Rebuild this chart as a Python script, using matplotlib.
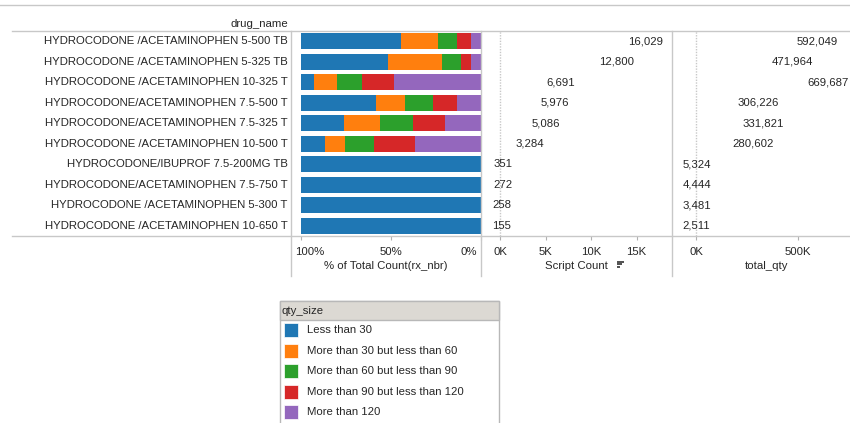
import matplotlib
matplotlib.use("Agg")
import matplotlib.pyplot as plt
from matplotlib.lines import Line2D
from matplotlib.patches import Rectangle
from matplotlib.transforms import ScaledTranslation

plt.rcParams['font.family'] = ['Liberation Sans', 'DejaVu Sans']

# ---------------- data ----------------
drug_names = [
    "HYDROCODONE /ACETAMINOPHEN 5-500 TB",
    "HYDROCODONE /ACETAMINOPHEN 5-325 TB",
    "HYDROCODONE /ACETAMINOPHEN 10-325 T",
    "HYDROCODONE/ACETAMINOPHEN 7.5-500 T",
    "HYDROCODONE/ACETAMINOPHEN 7.5-325 T",
    "HYDROCODONE /ACETAMINOPHEN 10-500 T",
    "HYDROCODONE/IBUPROF 7.5-200MG TB",
    "HYDROCODONE/ACETAMINOPHEN 7.5-750 T",
    "HYDROCODONE /ACETAMINOPHEN 5-300 T",
    "HYDROCODONE /ACETAMINOPHEN 10-650 T",
]
qty_sizes = ["Less than 30", "More than 30 but less than 60",
             "More than 60 but less than 90", "More than 90 but less than 120",
             "More than 120"]
pct_lt30 = [55.6, 48.1, 7.2, 41.9, 23.7, 13.3, 100, 100, 100, 100]
pct_30_60 = [20.4, 30.2, 13.0, 15.9, 20.4, 11.3, 0, 0, 0, 0]
pct_60_90 = [10.9, 10.4, 13.7, 15.6, 18.3, 16.1, 0, 0, 0, 0]
pct_90_120 = [7.6, 5.7, 17.8, 13.5, 17.8, 22.8, 0, 0, 0, 0]
pct_gt120 = [5.5, 5.6, 48.3, 13.1, 19.8, 36.5, 0, 0, 0, 0]
script_count = [16029, 12800, 6691, 5976, 5086, 3284, 351, 272, 258, 155]
total_qty = [592049, 471964, 669687, 306226, 331821, 280602, 5324, 4444, 3481, 2511]
pct_ticks = [100, 50, 0]
pct_tick_labels = ["100%", "50%", "0%"]
sc_ticks = [0, 5000, 10000, 15000]
sc_tick_labels = ["0K", "5K", "10K", "15K"]
tq_ticks = [0, 500000]
tq_tick_labels = ["0K", "500K"]

colors = ["#1f77b4", "#ff7f0e", "#2ca02c", "#d62728", "#9467bd"]
TXT = "#262626"
LINE = "#c8c8c8"
FS = 8.2

# ---------------- figure ----------------
W, H = 850, 423
fig = plt.figure(figsize=(W / 100, H / 100), dpi=100)
fig.patch.set_facecolor("white")


def fx(x):
    return x / W


def fy(y):
    return 1 - y / H


def add_ax(x0, y0, x1, y1):
    return fig.add_axes([x0 / W, 1 - y1 / H, (x1 - x0) / W, (y1 - y0) / H])


def hline(x0, x1, y, color=LINE):
    fig.add_artist(Line2D([fx(x0), fx(x1)], [fy(y), fy(y)], transform=fig.transFigure,
                          color=color, lw=1))


def vline(x, y0, y1, color=LINE):
    fig.add_artist(Line2D([fx(x), fx(x)], [fy(y0), fy(y1)], transform=fig.transFigure,
                          color=color, lw=1))


n = len(drug_names)
rows = list(range(n))
TOP, BOT = 31, 236

# frame lines
hline(0, 850, 5)
hline(12, 850, TOP)
hline(12, 850, BOT)
for xv in (291, 481, 672):
    vline(xv, TOP, 276)

# header
fig.text(fx(288), fy(24), "drug_name", ha="right", va="center", fontsize=FS, color=TXT)

# drug names
ax_names = add_ax(12, TOP, 291, BOT)
ax_names.set_ylim(n - 0.5, -0.5)
ax_names.set_xlim(0, 1)
ax_names.axis("off")
for i, name in enumerate(drug_names):
    ax_names.text(0.988, i, name, ha="right", va="center", fontsize=FS, color=TXT)


def style_axis(ax, ticks, labels, title, labelpad):
    for s in ax.spines.values():
        s.set_visible(False)
    ax.set_yticks([])
    ax.set_xticks(ticks)
    ax.set_xticklabels(labels)
    ax.tick_params(axis="x", direction="out", length=3, width=0.8, color="#b0b0b0",
                   labelsize=FS, labelcolor=TXT, pad=5)
    ax.set_xlabel(title, fontsize=FS, color=TXT, labelpad=labelpad)
    ax.set_ylim(n - 0.5, -0.5)
    ax.set_facecolor("none")


# % pane
ax_pct = add_ax(291, TOP, 481, BOT)
ax_pct.set_xlim(100 + 10 / 1.8, 0)
series = [pct_lt30, pct_30_60, pct_60_90, pct_90_120, pct_gt120]
cum = [0.0] * n
for vals, c, lab in zip(series, colors, qty_sizes):
    lefts = [100 - cb - v for cb, v in zip(cum, vals)]
    ax_pct.barh(rows, vals, left=lefts, height=0.8, color=c, label=lab, linewidth=0)
    cum = [cb + v for cb, v in zip(cum, vals)]
style_axis(ax_pct, pct_ticks, pct_tick_labels, "% of Total Count(rx_nbr)", 3)
lbls = ax_pct.get_xticklabels()
lbls[0].set_ha("left")
lbls[0].set_transform(lbls[0].get_transform() + ScaledTranslation(-6 / 100, 0, fig.dpi_scale_trans))
lbls[-1].set_ha("right")
lbls[-1].set_transform(lbls[-1].get_transform() + ScaledTranslation(-4 / 100, 0, fig.dpi_scale_trans))

# Script count pane
sc_px = 9.1 / 1000.0
ax_sc = add_ax(481, TOP, 672, BOT)
ax_sc.set_xlim(-19 / sc_px, (672 - 500) / sc_px)
ax_sc.axvline(0, color="#c8c8c8", lw=1, ls=(0, (1, 1)))
for i, v in enumerate(script_count):
    ax_sc.text(v, i, f"{v:,}", ha="center", va="center", fontsize=FS, color=TXT)
style_axis(ax_sc, sc_ticks, sc_tick_labels, "Script Count", 3)

# sort icon
for k, w_ in enumerate([7, 5, 3]):
    fig.add_artist(Rectangle((fx(617), fy(260.5 + 2.8 * k) - 2.0 / H), w_ / W, 2.0 / H,
                             transform=fig.transFigure, color="#555555", lw=0))

# total qty pane
tq_px = 0.204 / 1000.0
ax_tq = add_ax(672, TOP, 862, BOT)
ax_tq.set_xlim(-24 / tq_px, (862 - 696) / tq_px)
ax_tq.axvline(0, color="#c8c8c8", lw=1, ls=(0, (1, 1)))
tq_texts = []
for i, v in enumerate(total_qty):
    tq_texts.append(ax_tq.text(v, i, f"{v:,}", ha="center", va="center", fontsize=FS, color=TXT))
style_axis(ax_tq, tq_ticks, tq_tick_labels, "total_qty", 3)

# keep value labels inside the figure (shift left if they overflow the right edge)
renderer = fig.canvas.get_renderer()
for t in tq_texts:
    bb = t.get_window_extent(renderer)
    over = bb.x1 - (W - 1)
    if over > 0:
        t.set_transform(t.get_transform() + ScaledTranslation(-over / 100, 0, fig.dpi_scale_trans))

# legend
LX0, LX1, LY0 = 280, 499, 301
fig.add_artist(Rectangle((fx(LX0), fy(430)), (LX1 - LX0) / W, (430 - LY0) / H,
                         transform=fig.transFigure, facecolor="white", edgecolor="#b8b8b8", lw=1))
fig.add_artist(Rectangle((fx(LX0), fy(320)), (LX1 - LX0) / W, (320 - LY0) / H,
                         transform=fig.transFigure, facecolor="#dcd9d3", edgecolor="#b8b8b8", lw=1))
fig.text(fx(282), fy(311), "qty_size", ha="left", va="center", fontsize=FS, color=TXT)
for k, (lab, c) in enumerate(zip(qty_sizes, colors)):
    yc = 330 + 20.5 * k
    fig.add_artist(Rectangle((fx(284), fy(yc + 7)), 14 / W, 14 / H,
                             transform=fig.transFigure, facecolor=c, edgecolor="white", lw=0.5))
    fig.text(fx(307), fy(yc), lab, ha="left", va="center", fontsize=FS, color=TXT)

fig.savefig("out.png", dpi=100, facecolor="white")
